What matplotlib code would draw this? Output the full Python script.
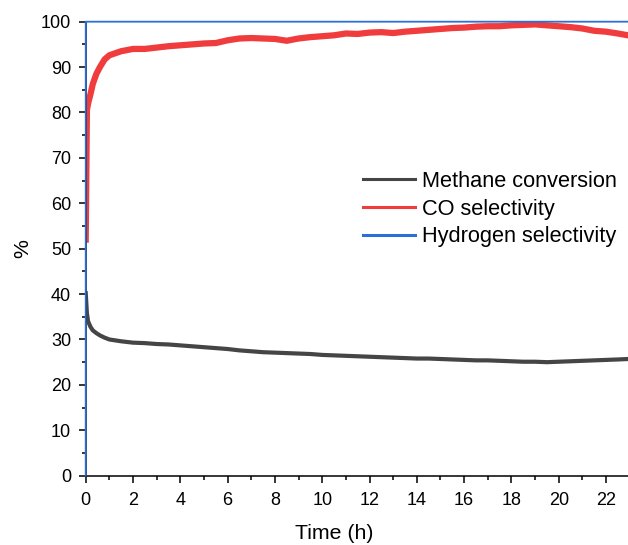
import matplotlib
matplotlib.use("Agg")
import matplotlib.pyplot as plt
from matplotlib.ticker import MultipleLocator

plt.rcParams['font.family'] = ['Liberation Sans', 'DejaVu Sans']

# данные
time_h = [0, 0.05, 0.1, 0.2, 0.3, 0.45, 0.6, 0.8,
          1.0, 1.5, 2.0, 2.5, 3.0, 3.5, 4.0, 4.5, 5.0, 5.5, 6.0, 6.5,
          7.0, 7.5, 8.0, 8.5, 9.0, 9.5, 10.0, 10.5, 11.0, 11.5, 12.0, 12.5,
          13.0, 13.5, 14.0, 14.5, 15.0, 15.5, 16.0, 16.5, 17.0, 17.5, 18.0,
          18.5, 19.0, 19.5, 20.0, 20.5, 21.0, 21.5, 22.0, 22.5, 22.93]

methane_conv = [40.2, 35.8, 34.0, 32.8, 32.0, 31.4, 30.9, 30.4,
                30.0, 29.6, 29.3, 29.2, 29.0, 28.9, 28.7, 28.5, 28.3, 28.1, 27.9, 27.6,
                27.4, 27.2, 27.1, 27.0, 26.9, 26.8, 26.6, 26.5, 26.4, 26.3, 26.2, 26.1,
                26.0, 25.9, 25.8, 25.8, 25.7, 25.6, 25.5, 25.4, 25.4, 25.3, 25.2,
                25.1, 25.1, 25.0, 25.1, 25.2, 25.3, 25.4, 25.5, 25.6, 25.7]

co_sel = [52.0, 80.5, 82.0, 84.0, 86.3, 88.5, 90.0, 91.7,
          92.6, 93.5, 94.0, 94.0, 94.3, 94.6, 94.8, 95.0, 95.2, 95.3, 95.9, 96.3,
          96.4, 96.3, 96.2, 95.8, 96.3, 96.6, 96.8, 97.0, 97.4, 97.3, 97.6, 97.7,
          97.5, 97.8, 98.0, 98.2, 98.4, 98.6, 98.7, 98.9, 99.0, 99.0, 99.2,
          99.3, 99.4, 99.2, 99.0, 98.8, 98.5, 98.0, 97.8, 97.4, 97.0]

h2_time = [0, 0.001, 22.93]
h2_sel = [0, 100, 100]

labels = ['Methane conversion', 'CO selectivity', 'Hydrogen selectivity']
colors = ['#454545', '#f03c3c', '#2c6fd8']

fig = plt.figure(figsize=(6.28, 5.45), dpi=100)
ax = fig.add_axes([0.1365, 0.1272, 0.8635, 0.833])

ax.plot(time_h, methane_conv, color=colors[0], linewidth=3.0, label=labels[0])
ax.plot(time_h, co_sel, color=colors[1], linewidth=4.5, label=labels[1])
ax.plot(h2_time, h2_sel, color=colors[2], linewidth=1.3, label=labels[2], clip_on=False, zorder=5)

ax.set_xlim(0, 22.93)
ax.set_ylim(0, 100)
ax.xaxis.set_major_locator(MultipleLocator(2))
ax.xaxis.set_minor_locator(MultipleLocator(1))
ax.yaxis.set_major_locator(MultipleLocator(10))
ax.yaxis.set_minor_locator(MultipleLocator(5))
ax.tick_params(which='major', direction='out', length=5, width=1.1, labelsize=13)
ax.tick_params(axis='x', which='major', pad=7)
ax.tick_params(axis='y', which='major', pad=5.5)
ax.tick_params(which='minor', direction='out', length=2.7, width=1.1)

for s in ['top', 'right']:
    ax.spines[s].set_visible(False)
for s in ['left', 'bottom']:
    ax.spines[s].set_linewidth(1.1)

# подписи осей ставим по пикселям оригинала
ax.set_xlabel('Time (h)', fontsize=15.3)
ax.xaxis.set_label_coords((334 - 85.7) / (628 - 85.7), -(534 - 475.7) / 454, transform=ax.transAxes)
ax.xaxis.label.set_va('center')
ax.set_ylabel('%', fontsize=15.3)
ax.yaxis.set_label_coords(-(85.7 - 22.5) / 542.3, (475.7 - 249) / 454, transform=ax.transAxes)
ax.yaxis.label.set_va('center')

# легенда без рамки
leg = fig.legend(loc='upper left', bbox_to_anchor=(0.578, 0.686), frameon=False,
                 fontsize=15.7, handlelength=2.4, handletextpad=0.32,
                 labelspacing=0.3, borderpad=0, borderaxespad=0)
for line in leg.get_lines():
    line.set_linewidth(2.2)

fig.savefig('out.png', dpi=100)
